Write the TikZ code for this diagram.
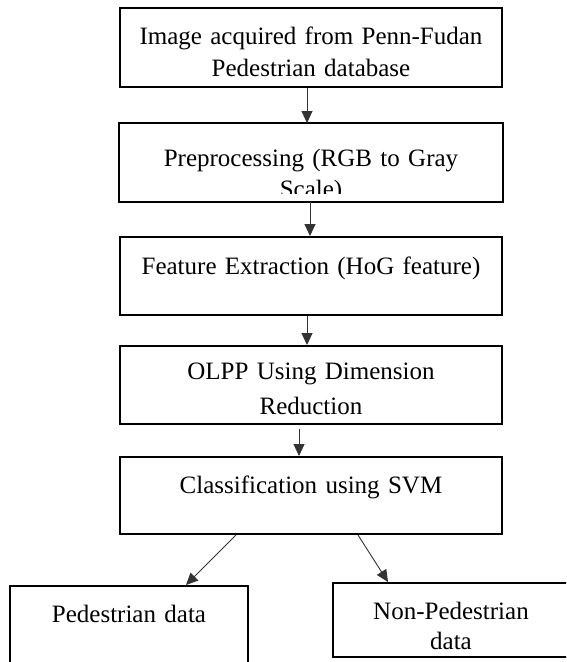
\documentclass[tikz,border=0pt]{standalone}
\usepackage{fontspec}
\setmainfont{Liberation Serif}
\usetikzlibrary{arrows.meta}

\tikzset{
  stage/.style={draw=black, line width=2pt, inner sep=0pt, anchor=north,
    align=center, font=\fontsize{25}{32}\selectfont},
  flow/.style={draw=black!80, line width=0.9pt, -{Triangle[length=12pt,width=11pt]}}
}

\begin{document}
\begin{tikzpicture}[x=1pt,y=-1pt]
\useasboundingbox (0,0) rectangle (566,662);
\clip (0,0) rectangle (566,662);

\node[stage, text width=382pt, text height=36pt, text depth=43pt] (acquire) at (311,7)
  {Image acquired from Penn-Fudan\\Pedestrian database};

% second line runs out of the box and is cut off
\begin{scope}
\clip (100,110) rectangle (520,193.5);
\node[stage, draw=none, text width=382pt, text height=42pt, text depth=35pt,
  font=\fontsize{25}{31}\selectfont] (preproc) at (311,123)
  {Preprocessing (RGB to Gray\\Scale)};
\end{scope}
\draw[line width=2pt] (preproc.south west) rectangle (preproc.north east);

\node[stage, text width=382pt, text height=37pt, text depth=41pt] (feature) at (311,236)
  {Feature Extraction (HoG feature)};
\node[stage, text width=382pt, text height=33pt, text depth=45pt,
  font=\fontsize{25}{35}\selectfont] (olpp) at (311,345)
  {OLPP Using Dimension\\Reduction};
\node[stage, text width=382pt, text height=36pt, text depth=41pt] (classify) at (311,456)
  {Classification using SVM};

\node[stage, text width=238pt, text height=36pt, text depth=100pt] (ped) at (129,585)
  {Pedestrian data};
\node[stage, text width=236pt, text height=36pt, text depth=38pt,
  font=\fontsize{25}{30}\selectfont] (nonped) at (451,582)
  {Non-Pedestrian\\data};

\draw[flow] ([xshift=-4pt]acquire.south) -- ([xshift=-4pt]preproc.north);
\draw[flow] ([xshift=-1pt]preproc.south) -- ([xshift=-1pt]feature.north);
\draw[flow] ([xshift=-4pt]feature.south) -- ([xshift=-4pt]olpp.north);
\draw[flow] ([xshift=-12pt,yshift=-4pt]olpp.south) -- ([xshift=-12pt]classify.north);
\draw[flow] ([xshift=-75pt]classify.south) -- ([xshift=57pt]ped.north);
\draw[flow] ([xshift=47pt]classify.south) -- ([xshift=-63pt]nonped.north);
\end{tikzpicture}
\end{document}
